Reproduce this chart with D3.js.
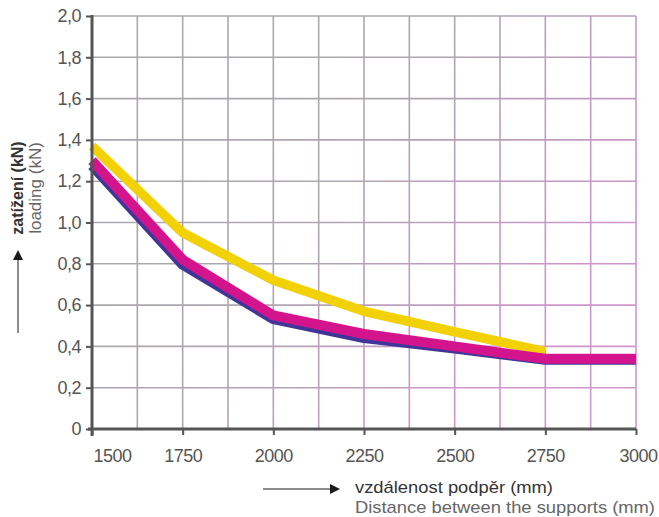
<!DOCTYPE html>
<html>
<head>
<meta charset="utf-8">
<script src="https://cdn.jsdelivr.net/npm/d3@7/dist/d3.min.js"></script>
<style>
  html, body { margin: 0; padding: 0; background: #fff; }
  svg { display: block; font-family: "Liberation Sans", Arial, sans-serif; }
</style>
</head>
<body>
<svg id="chart" width="659" height="517"></svg>
<script>
const distances = [1500, 1750, 2000, 2250, 2500, 2750, 3000];
const yellowSeries = [1.37, 0.95, 0.72, 0.57, 0.47, 0.375, null];
const blueSeries = [1.275, 0.795, 0.532, 0.44, 0.39, 0.335, 0.335];
const magentaSeries = [1.30, 0.82, 0.55, 0.46, 0.40, 0.34, 0.34];
const xTickValues = [1500, 1750, 2000, 2250, 2500, 2750, 3000];
const yTickValues = [0, 0.2, 0.4, 0.6, 0.8, 1.0, 1.2, 1.4, 1.6, 1.8, 2.0];
const yTickLabels = ["0", "0,2", "0,4", "0,6", "0,8", "1,0", "1,2", "1,4", "1,6", "1,8", "2,0"];
const xGridValues = d3.range(1500, 3001, 125);
const yTitle1 = "zatížení (kN)";
const yTitle2 = "loading (kN)";
const xTitle1 = "vzdálenost podpěr (mm)";
const xTitle2 = "Distance between the supports (mm)";

const svg = d3.select("#chart");
const pL = 92, pR = 636, pT = 16, pB = 429;
const x = d3.scaleLinear().domain([1500, 3000]).range([pL, pR]);
const y = d3.scaleLinear().domain([0, 2]).range([pB, pT]);

const defs = svg.append("defs");
const grad = defs.append("linearGradient").attr("id", "gridGrad")
  .attr("gradientUnits", "userSpaceOnUse")
  .attr("x1", pL).attr("y1", pT).attr("x2", pR).attr("y2", pB);
grad.append("stop").attr("offset", "0").attr("stop-color", "#aaa8ac");
grad.append("stop").attr("offset", "0.45").attr("stop-color", "#aea6b0");
grad.append("stop").attr("offset", "0.8").attr("stop-color", "#cf94cc");
grad.append("stop").attr("offset", "1").attr("stop-color", "#cc9acc");
defs.append("marker").attr("id", "arrow").attr("viewBox", "0 0 10 10")
  .attr("refX", 0).attr("refY", 5).attr("markerWidth", 10).attr("markerHeight", 11)
  .attr("markerUnits", "userSpaceOnUse").attr("orient", "auto")
  .append("path").attr("d", "M0,0 L10,5 L0,10 Z").attr("fill", "#1a1a1a");

// grid
const grid = svg.append("g").attr("stroke", "url(#gridGrad)").attr("stroke-width", 1.6);
grid.selectAll(".vg").data(xGridValues).join("line")
  .attr("x1", d => x(d)).attr("x2", d => x(d)).attr("y1", pT).attr("y2", pB);
grid.selectAll(".hg").data(yTickValues).join("line")
  .attr("x1", pL).attr("x2", pR).attr("y1", d => y(d)).attr("y2", d => y(d));

// lines
function mkLine(vals) {
  return d3.line()
    .defined((d, i) => vals[i] !== null)
    .x((d, i) => x(distances[i]))
    .y((d, i) => y(vals[i]))(vals);
}
svg.append("path").attr("d", mkLine(yellowSeries)).attr("fill", "none")
  .attr("stroke", "#f2d106").attr("stroke-width", 9.5).attr("stroke-linejoin", "round");
svg.append("path").attr("d", mkLine(blueSeries)).attr("fill", "none")
  .attr("stroke", "#40369a").attr("stroke-width", 10).attr("stroke-linejoin", "round");
svg.append("path").attr("d", mkLine(magentaSeries)).attr("fill", "none")
  .attr("stroke", "#d3148c").attr("stroke-width", 10).attr("stroke-linejoin", "round");

// axes
const yAxis = d3.axisLeft(y).tickValues(yTickValues)
  .tickFormat((d, i) => yTickLabels[i]).tickSize(6).tickPadding(5);
const yg = svg.append("g").attr("transform", `translate(${pL},0)`).call(yAxis);
yg.select(".domain").remove();
yg.selectAll(".tick line").attr("stroke", "#555").attr("stroke-width", 2);
yg.selectAll(".tick text").attr("fill", "#555").attr("font-size", 18).attr("letter-spacing", -0.5);

const xAxis = d3.axisBottom(x).tickValues(xTickValues).tickSize(6).tickPadding(14)
  .tickFormat(d3.format("d"));
const xg = svg.append("g").attr("transform", `translate(0,${pB})`).call(xAxis);
xg.select(".domain").remove();
xg.selectAll(".tick line").attr("stroke", "#555").attr("stroke-width", 2);
xg.selectAll(".tick text").attr("fill", "#555").attr("font-size", 18).attr("letter-spacing", -0.5)
  .attr("dx", (d, i) => i === 0 ? 20 : (i === xTickValues.length - 1 ? 2 : 0));

svg.append("line").attr("x1", pL).attr("x2", pL).attr("y1", pT - 1).attr("y2", pB + 7)
  .attr("stroke", "#555").attr("stroke-width", 3);
svg.append("line").attr("x1", pL - 4).attr("x2", pR).attr("y1", pB).attr("y2", pB)
  .attr("stroke", "#555").attr("stroke-width", 3);

// y title
svg.append("text").attr("transform", "translate(23,188) rotate(-90)")
  .attr("text-anchor", "middle").attr("font-size", 16).attr("font-weight", "bold")
  .attr("fill", "#333").text(yTitle1);
svg.append("text").attr("transform", "translate(41,188) rotate(-90)")
  .attr("text-anchor", "middle").attr("font-size", 17)
  .attr("fill", "#666").text(yTitle2);
svg.append("line").attr("x1", 18).attr("x2", 18).attr("y1", 333).attr("y2", 260)
  .attr("stroke", "#666").attr("stroke-width", 1.5).attr("marker-end", "url(#arrow)");

// x title
svg.append("line").attr("x1", 263).attr("x2", 330).attr("y1", 489).attr("y2", 489)
  .attr("stroke", "#666").attr("stroke-width", 1.5).attr("marker-end", "url(#arrow)");
svg.append("text").attr("x", 355).attr("y", 493).attr("font-size", 17)
  .attr("textLength", 198).attr("lengthAdjust", "spacingAndGlyphs")
  .attr("fill", "#333").text(xTitle1);
svg.append("text").attr("x", 355).attr("y", 512.5).attr("font-size", 17)
  .attr("textLength", 300).attr("lengthAdjust", "spacingAndGlyphs")
  .attr("fill", "#666").text(xTitle2);
</script>
</body>
</html>
